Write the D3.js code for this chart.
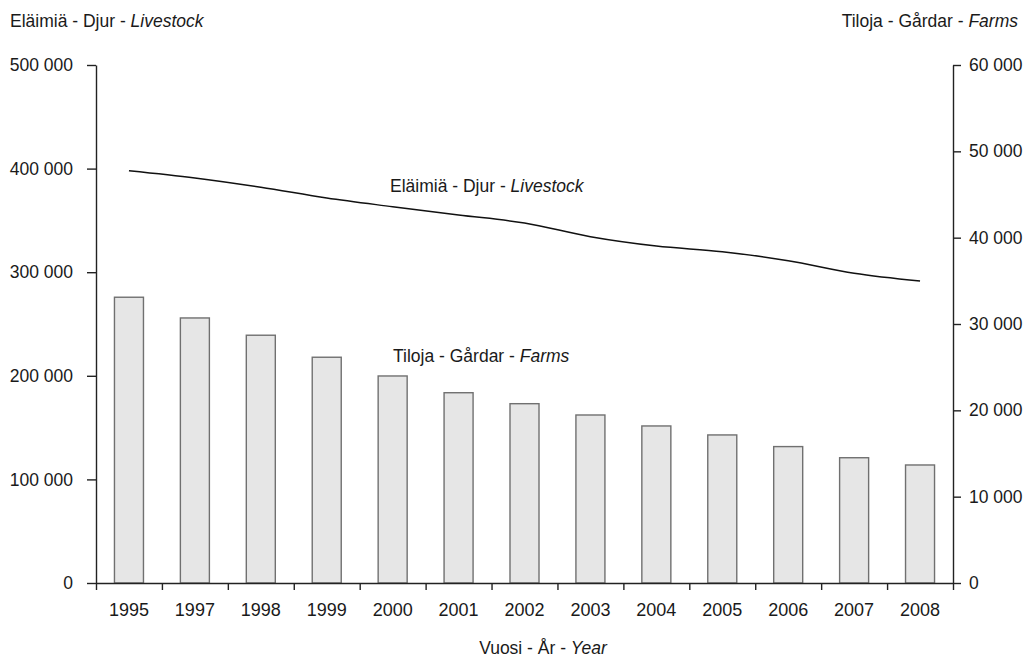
<!DOCTYPE html>
<meta charset="utf-8">
<style>
body { margin: 0; background: #fff; }
text { font-family: "Liberation Sans", Arial, sans-serif; fill: #1a1a1a; }
.axis path, .axis line { stroke: #222; stroke-width: 1.4; }
</style>
<svg width="1028" height="657"></svg>
<script src="https://d3js.org/d3.v7.min.js"></script>
<script>

// values
var years = ["1995", "1997", "1998", "1999", "2000", "2001", "2002",
             "2003", "2004", "2005", "2006", "2007", "2008"];
var farms = [33100, 30700, 28700, 26150, 23980, 22040, 20770,
             19460, 18190, 17150, 15800, 14510, 13670];
var livestock = [398000, 391000, 382000, 371600, 363200, 355200, 347500,
                 334300, 325300, 319800, 311100, 299000, 291500];
var leftTicks = [0, 100000, 200000, 300000, 400000, 500000];
var rightTicks = [0, 10000, 20000, 30000, 40000, 50000, 60000];

var svg = d3.select("svg"),
    margin = {top: 65, right: 75, bottom: 74, left: 96},
    width = +svg.attr("width") - margin.left - margin.right,
    height = +svg.attr("height") - margin.top - margin.bottom;

var g = svg.append("g")
    .attr("transform", "translate(" + margin.left + "," + margin.top + ")");

var fi = d3.formatLocale({decimal: ",", thousands: " ", grouping: [3], currency: ["", ""]});
var fmt = fi.format(",");

var x = d3.scaleBand()
    .domain(years)
    .range([0, width])
    .paddingInner(0.56)
    .paddingOuter(0.28);

var xEdge = d3.scaleLinear().domain([0, years.length]).range([0, width]);

var yL = d3.scaleLinear().domain([0, 500000]).range([height, 0]);
var yR = d3.scaleLinear().domain([0, 60000]).range([height, 0]);

// bars (right axis)
g.selectAll(".bar")
  .data(years)
  .enter().append("rect")
    .attr("class", "bar")
    .attr("x", function(d) { return x(d); })
    .attr("y", function(d, i) { return yR(farms[i]); })
    .attr("width", x.bandwidth())
    .attr("height", function(d, i) { return height - yR(farms[i]); })
    .attr("fill", "#e6e6e6")
    .attr("stroke", "#707070")
    .attr("stroke-width", 1.4);

// livestock line (left axis)
var line = d3.line()
    .x(function(d, i) { return x(years[i]) + x.bandwidth() / 2; })
    .y(function(d) { return yL(d); })
    .curve(d3.curveMonotoneX);

g.append("path")
    .datum(livestock)
    .attr("fill", "none")
    .attr("stroke", "#111")
    .attr("stroke-width", 1.5)
    .attr("d", line);

// axes
g.append("g")
    .attr("class", "axis")
    .call(d3.axisLeft(yL).tickValues(leftTicks).tickFormat(fmt).tickSize(9).tickSizeOuter(0).tickPadding(14))
    .call(function(s) { s.selectAll("text").style("font-size", "17.5px"); s.attr("font-family", null); });

g.append("g")
    .attr("class", "axis")
    .attr("transform", "translate(" + width + ",0)")
    .call(d3.axisRight(yR).tickValues(rightTicks).tickFormat(fmt).tickSize(8).tickSizeOuter(0).tickPadding(8))
    .call(function(s) { s.selectAll("text").style("font-size", "17.5px"); s.attr("font-family", null); });

g.append("g")
    .attr("class", "axis")
    .attr("transform", "translate(0," + height + ")")
    .call(d3.axisBottom(xEdge).tickValues(d3.range(years.length + 1)).tickFormat("").tickSize(7).tickSizeOuter(0));

g.append("g")
    .attr("transform", "translate(0," + height + ")")
    .selectAll("text")
    .data(years)
  .enter().append("text")
    .attr("x", function(d) { return x(d) + x.bandwidth() / 2; })
    .attr("y", 33)
    .attr("text-anchor", "middle")
    .style("font-size", "18px")
    .text(function(d) { return d; });

// titles
function label(sel, a, b, c) {
  sel.append("tspan").text(a + " - " + b + " - ");
  sel.append("tspan").style("font-style", "italic").text(c);
}

svg.append("text").attr("x", 10).attr("y", 27).style("font-size", "17.5px")
    .call(label, "Eläimiä", "Djur", "Livestock");

svg.append("text").attr("x", 1018).attr("y", 27).attr("text-anchor", "end").style("font-size", "17.5px")
    .call(label, "Tiloja", "Gårdar", "Farms");

svg.append("text").attr("x", 390).attr("y", 192).style("font-size", "17.5px")
    .call(label, "Eläimiä", "Djur", "Livestock");

svg.append("text").attr("x", 393).attr("y", 362).style("font-size", "17.5px")
    .call(label, "Tiloja", "Gårdar", "Farms");

svg.append("text").attr("x", 543).attr("y", 654).attr("text-anchor", "middle").style("font-size", "17.5px")
    .call(label, "Vuosi", "År", "Year");

</script>
